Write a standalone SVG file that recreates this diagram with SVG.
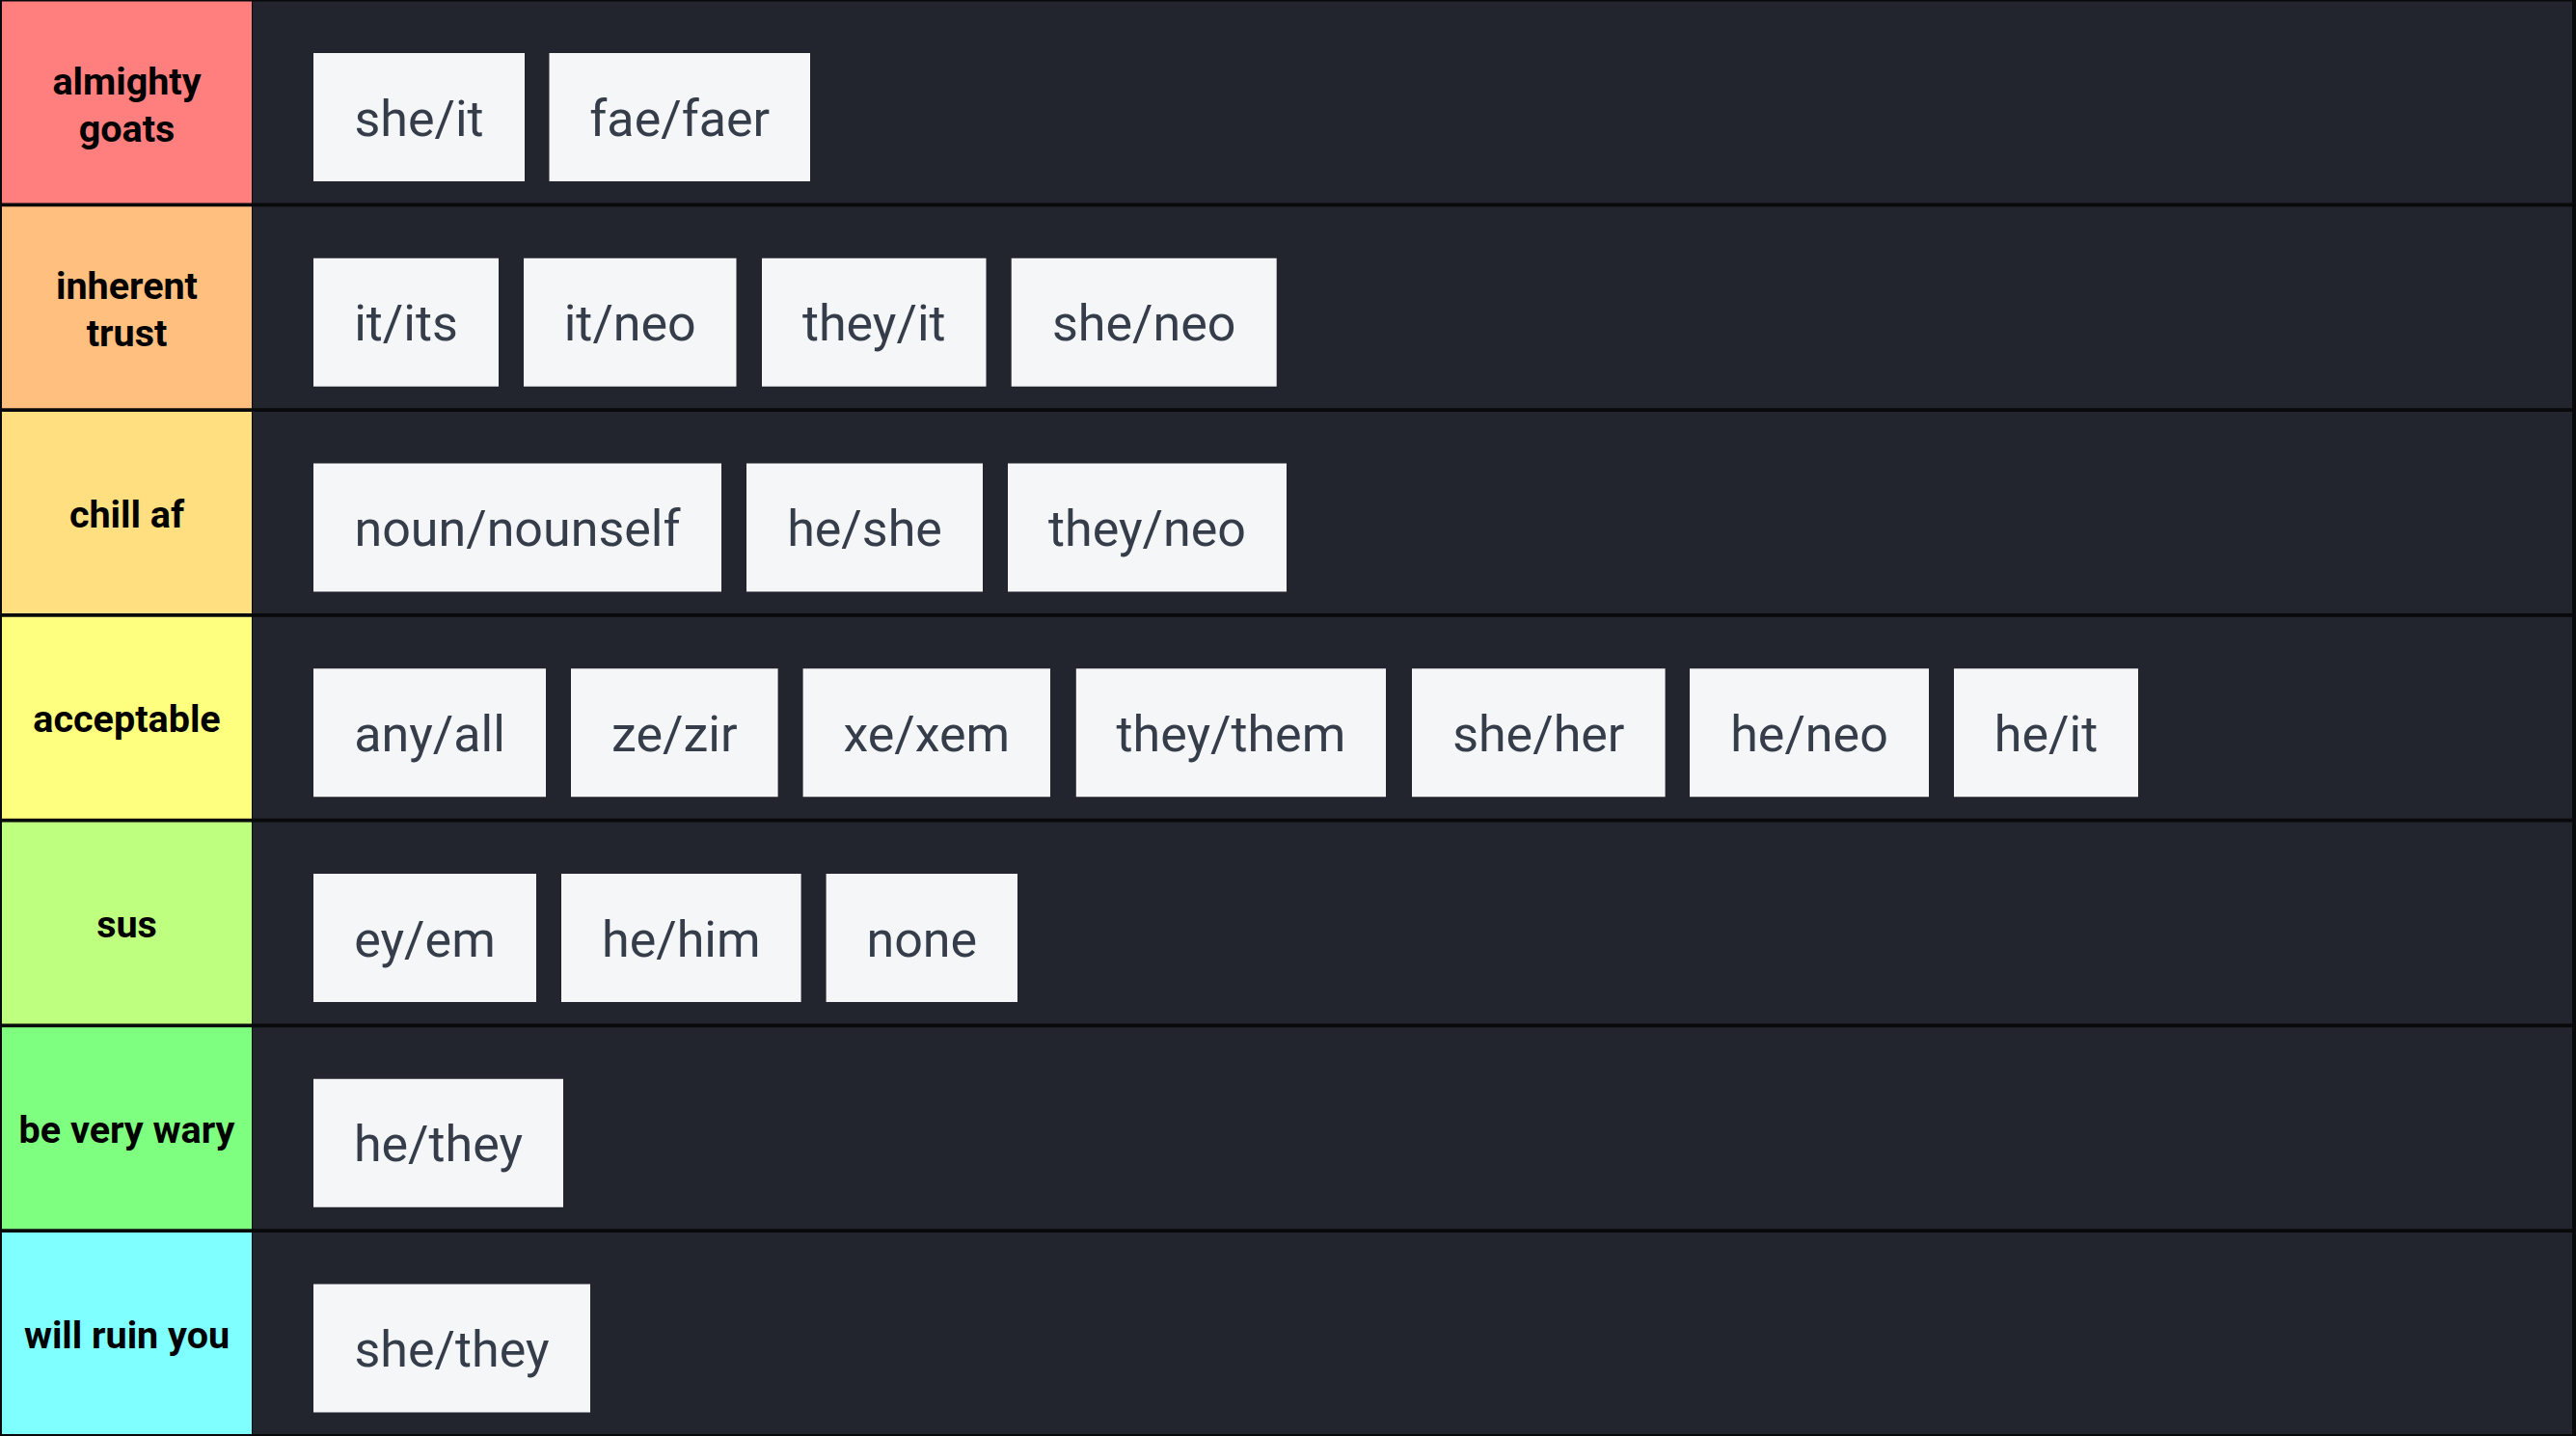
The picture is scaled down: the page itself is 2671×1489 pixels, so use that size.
<svg xmlns="http://www.w3.org/2000/svg" width="2671" height="1489" viewBox="0 0 2671 1489">
<style>
.bg{fill:#08090b}
.row{fill:#22252d}
.lbl{font-family:Roboto,"Liberation Sans",sans-serif;font-weight:700;font-size:39.5px;fill:#000;text-anchor:middle}
.item rect{fill:#f5f6f7}
.item text{font-family:Roboto,"Liberation Sans",sans-serif;font-weight:400;font-size:52px;fill:#363d4a;text-anchor:middle}
</style>
<rect class="bg" x="0" y="0" width="2671" height="1489"/>

<g id="tier-1">
<rect x="2" y="1.5" width="259" height="209" fill="#ff7f7f"/>
<rect class="row" x="262" y="1.5" width="2405" height="209"/>
<text class="lbl" x="131.5" y="97.5">almighty</text>
<text class="lbl" x="131.5" y="146.5">goats</text>
</g>
<g id="tier-2">
<rect x="2" y="214.25" width="259" height="209" fill="#ffbf7f"/>
<rect class="row" x="262" y="214.25" width="2405" height="209"/>
<text class="lbl" x="131.5" y="310">inherent</text>
<text class="lbl" x="131.5" y="359">trust</text>
</g>
<g id="tier-3">
<rect x="2" y="427" width="259" height="209" fill="#ffdf7f"/>
<rect class="row" x="262" y="427" width="2405" height="209"/>
<text class="lbl" x="131.5" y="546.5">chill af</text>
</g>
<g id="tier-4">
<rect x="2" y="639.75" width="259" height="209" fill="#ffff7f"/>
<rect class="row" x="262" y="639.75" width="2405" height="209"/>
<text class="lbl" x="131.5" y="759">acceptable</text>
</g>
<g id="tier-5">
<rect x="2" y="852.5" width="259" height="209" fill="#bfff7f"/>
<rect class="row" x="262" y="852.5" width="2405" height="209"/>
<text class="lbl" x="131.5" y="972">sus</text>
</g>
<g id="tier-6">
<rect x="2" y="1065.25" width="259" height="209" fill="#7fff7f"/>
<rect class="row" x="262" y="1065.25" width="2405" height="209"/>
<text class="lbl" x="131.5" y="1184.5">be very wary</text>
</g>
<g id="tier-7">
<rect x="2" y="1278" width="259" height="209" fill="#7fffff"/>
<rect class="row" x="262" y="1278" width="2405" height="209"/>
<text class="lbl" x="131.5" y="1397.5">will ruin you</text>
</g>

<g id="connectors"></g>

<g id="item-she-it" class="item"><rect x="325" y="55" width="219" height="133"/><text x="434.5" y="140.5">she/it</text></g>
<g id="item-fae-faer" class="item"><rect x="569.5" y="55" width="270.5" height="133"/><text x="704.75" y="140.5">fae/faer</text></g>

<g id="item-it-its" class="item"><rect x="325" y="267.75" width="192" height="133"/><text x="421" y="353.25">it/its</text></g>
<g id="item-it-neo" class="item"><rect x="543" y="267.75" width="220.5" height="133"/><text x="653.25" y="353.25">it/neo</text></g>
<g id="item-they-it" class="item"><rect x="790" y="267.75" width="232.5" height="133"/><text x="906.25" y="353.25">they/it</text></g>
<g id="item-she-neo" class="item"><rect x="1048.7" y="267.75" width="275" height="133"/><text x="1186.2" y="353.25">she/neo</text></g>

<g id="item-noun-nounself" class="item"><rect x="325" y="480.5" width="423" height="133"/><text x="536.5" y="566">noun/nounself</text></g>
<g id="item-he-she" class="item"><rect x="774" y="480.5" width="245" height="133"/><text x="896.5" y="566">he/she</text></g>
<g id="item-they-neo" class="item"><rect x="1045" y="480.5" width="289" height="133"/><text x="1189.5" y="566">they/neo</text></g>

<g id="item-any-all" class="item"><rect x="325" y="693.25" width="241" height="133"/><text x="445.5" y="778.75">any/all</text></g>
<g id="item-ze-zir" class="item"><rect x="592" y="693.25" width="214.6" height="133"/><text x="699.3" y="778.75">ze/zir</text></g>
<g id="item-xe-xem" class="item"><rect x="832.6" y="693.25" width="256.4" height="133"/><text x="960.8" y="778.75">xe/xem</text></g>
<g id="item-they-them" class="item"><rect x="1115.8" y="693.25" width="321.2" height="133"/><text x="1276.4" y="778.75">they/them</text></g>
<g id="item-she-her" class="item"><rect x="1464" y="693.25" width="262.6" height="133"/><text x="1595.3" y="778.75">she/her</text></g>
<g id="item-he-neo" class="item"><rect x="1752" y="693.25" width="248" height="133"/><text x="1876" y="778.75">he/neo</text></g>
<g id="item-he-it" class="item"><rect x="2026" y="693.25" width="191" height="133"/><text x="2121.5" y="778.75">he/it</text></g>

<g id="item-ey-em" class="item"><rect x="325" y="906" width="231" height="133"/><text x="440.5" y="991.5">ey/em</text></g>
<g id="item-he-him" class="item"><rect x="582" y="906" width="248.6" height="133"/><text x="706.3" y="991.5">he/him</text></g>
<g id="item-none" class="item"><rect x="856.6" y="906" width="198.4" height="133"/><text x="955.8" y="991.5">none</text></g>

<g id="item-he-they" class="item"><rect x="325" y="1118.75" width="259" height="133"/><text x="454.5" y="1204.25">he/they</text></g>

<g id="item-she-they" class="item"><rect x="325" y="1331.5" width="287" height="133"/><text x="468.5" y="1417">she/they</text></g>
</svg>
